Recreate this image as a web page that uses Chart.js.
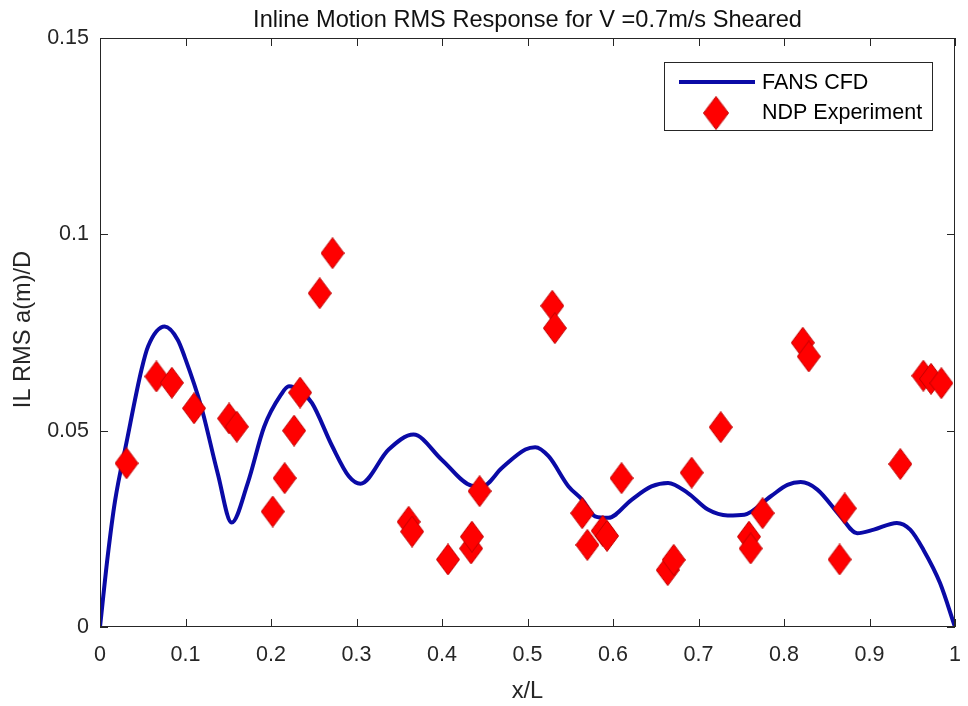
<!DOCTYPE html>
<html>
<head>
<meta charset="utf-8">
<title>Inline Motion RMS Response</title>
<script src="https://cdn.jsdelivr.net/npm/chart.js@4.4.1/dist/chart.umd.min.js"></script>
<style>
  html, body { margin: 0; padding: 0; background: #fff; }
  #wrap { width: 968px; height: 706px; position: relative; }
</style>
</head>
<body>
<div id="wrap"><canvas id="myChart"></canvas></div>
<script>
// Datos de la gráfica
const chartTitle = 'Inline Motion RMS Response for V =0.7m/s Sheared';
const xLabel = 'x/L';
const yLabel = 'IL RMS a(m)/D';
const cfdName = 'FANS CFD';
const expName = 'NDP Experiment';

const xTicks = [0, 0.1, 0.2, 0.3, 0.4, 0.5, 0.6, 0.7, 0.8, 0.9, 1];
const xTickLabels = ['0', '0.1', '0.2', '0.3', '0.4', '0.5', '0.6', '0.7', '0.8', '0.9', '1'];
const yTicks = [0, 0.05, 0.1, 0.15];
const yTickLabels = ['0', '0.05', '0.1', '0.15'];

// Curva CFD
const cfdX = [0, 0.009, 0.0175, 0.031, 0.0485, 0.0563, 0.0757, 0.091, 0.099, 0.1184, 0.1377, 0.154, 0.1727,
  0.192, 0.2115, 0.221, 0.235, 0.248, 0.2715, 0.291, 0.3046, 0.3376, 0.3667, 0.3997, 0.4346,
  0.447, 0.470, 0.4975, 0.509, 0.5246, 0.548, 0.564, 0.579, 0.5945, 0.6217, 0.645, 0.6644,
  0.6876, 0.711, 0.7342, 0.7536, 0.7846, 0.804, 0.8196, 0.839, 0.866, 0.8856, 0.905, 0.932,
  0.9476, 0.963, 0.9825, 1];
const cfdY = [0, 0.018, 0.032, 0.047, 0.0655, 0.0715, 0.0765, 0.0731, 0.0688, 0.0561, 0.0391, 0.0266, 0.0366,
  0.0510, 0.0591, 0.0613, 0.0600, 0.0570, 0.0461, 0.0384, 0.0365, 0.0452, 0.0490, 0.0426, 0.0360,
  0.0358, 0.0405, 0.0452, 0.0458, 0.0435, 0.0358, 0.0324, 0.0282, 0.0278, 0.0324, 0.0358, 0.0367,
  0.0341, 0.0299, 0.0284, 0.0286, 0.0333, 0.0362, 0.0369, 0.0350, 0.0282, 0.0239, 0.0248, 0.0265,
  0.0248, 0.0197, 0.0112, 0];

// Puntos del experimento
const expX = [0.031, 0.066, 0.084, 0.110, 0.151, 0.160, 0.202, 0.216, 0.227, 0.234, 0.257, 0.272,
  0.361, 0.365, 0.407, 0.434, 0.435, 0.444, 0.529, 0.532, 0.564, 0.570, 0.588, 0.593, 0.610,
  0.664, 0.671, 0.692, 0.726, 0.759, 0.761, 0.775, 0.822, 0.829, 0.865, 0.871, 0.936, 0.963,
  0.972, 0.984];
const expY = [0.0417, 0.0638, 0.0622, 0.0557, 0.0531, 0.0510, 0.0294, 0.0379, 0.0500, 0.0597, 0.0850, 0.0952,
  0.0268, 0.0243, 0.0172, 0.0200, 0.0230, 0.0346, 0.0818, 0.0761, 0.0290, 0.0209, 0.0245, 0.0232, 0.0379,
  0.0145, 0.0171, 0.0393, 0.0509, 0.0230, 0.0200, 0.0290, 0.0724, 0.0689, 0.0172, 0.0302, 0.0415, 0.0640,
  0.0632, 0.0621];

const FONT = '"Liberation Sans", Arial, sans-serif';
const lineColor = '#0a0aa6';
const textColor = '#262626';

// Rombo alargado estilo MATLAB
function makeDiamond(w, h) {
  const c = document.createElement('canvas');
  c.width = w; c.height = h;
  const g = c.getContext('2d');
  g.beginPath();
  g.moveTo(w / 2, 0.5);
  g.lineTo(w - 0.5, h / 2);
  g.lineTo(w / 2, h - 0.5);
  g.lineTo(0.5, h / 2);
  g.closePath();
  g.fillStyle = '#ff0000';
  g.fill();
  g.strokeStyle = '#c00000';
  g.lineWidth = 1;
  g.stroke();
  return c;
}
const diamond = makeDiamond(24, 32);

// Marco, marcas internas, leyenda y textos
const matlabFrame = {
  id: 'matlabFrame',
  afterDatasetsDraw(chart) {
    const { ctx, chartArea: a, scales: { x, y } } = chart;
    ctx.save();
    ctx.strokeStyle = textColor;
    ctx.lineWidth = 1;
    ctx.strokeRect(a.left + 0.5, a.top + 0.5, a.right - a.left - 1, a.bottom - a.top - 1);

    const tl = 8;
    ctx.beginPath();
    xTicks.forEach(v => {
      const px = Math.round(x.getPixelForValue(v)) + 0.5;
      ctx.moveTo(px, a.bottom); ctx.lineTo(px, a.bottom - tl);
      ctx.moveTo(px, a.top); ctx.lineTo(px, a.top + tl);
    });
    yTicks.forEach(v => {
      const py = Math.round(y.getPixelForValue(v)) + 0.5;
      ctx.moveTo(a.left, py); ctx.lineTo(a.left + tl, py);
      ctx.moveTo(a.right, py); ctx.lineTo(a.right - tl, py);
    });
    ctx.stroke();

    // leyenda
    const bx = a.right - 291, by = a.top + 24, bw = 268, bh = 68;
    ctx.fillStyle = '#fff';
    ctx.fillRect(bx, by, bw, bh);
    ctx.strokeStyle = textColor;
    ctx.strokeRect(bx + 0.5, by + 0.5, bw, bh);
    ctx.strokeStyle = lineColor;
    ctx.lineWidth = 4;
    ctx.beginPath();
    ctx.moveTo(bx + 15, by + 20);
    ctx.lineTo(bx + 91, by + 20);
    ctx.stroke();
    ctx.drawImage(diamond, bx + 52 - 13, by + 51 - 17, 26, 34);
    ctx.fillStyle = '#000';
    ctx.font = '21.5px ' + FONT;
    ctx.textAlign = 'left';
    ctx.textBaseline = 'middle';
    ctx.fillText(cfdName, bx + 98, by + 21);
    ctx.fillText(expName, bx + 98, by + 51);

    // títulos
    ctx.font = '23.6px ' + FONT;
    ctx.textAlign = 'center';
    ctx.fillStyle = '#111';
    ctx.fillText(chartTitle, (a.left + a.right) / 2, 20);
    ctx.fillStyle = textColor;
    ctx.fillText(xLabel, (a.left + a.right) / 2, 691);
    ctx.translate(23, (a.top + a.bottom) / 2 - 3);
    ctx.rotate(-Math.PI / 2);
    ctx.fillText(yLabel, 0, 0);
    ctx.restore();
  }
};

const chartConfig = {
  type: 'scatter',
  data: {
    datasets: [
      {
        label: expName,
        data: expX.map((v, i) => ({ x: v, y: expY[i] })),
        pointStyle: diamond,
        pointRadius: 12,
        pointHoverRadius: 12,
        showLine: false,
        order: 1
      },
      {
        label: cfdName,
        type: 'line',
        data: cfdX.map((v, i) => ({ x: v, y: cfdY[i] })),
        borderColor: lineColor,
        borderWidth: 4,
        pointRadius: 0,
        fill: false,
        cubicInterpolationMode: 'monotone',
        order: 2
      }
    ]
  },
  options: {
    responsive: true,
    maintainAspectRatio: false,
    animation: false,
    layout: { padding: { top: 38, right: 9, left: 0, bottom: 0 } },
    plugins: {
      legend: { display: false },
      title: { display: false },
      tooltip: { enabled: false }
    },
    scales: {
      x: {
        type: 'linear',
        min: 0,
        max: 1,
        grid: { display: false, drawTicks: false },
        border: { display: false },
        afterBuildTicks: scale => { scale.ticks = xTicks.map(v => ({ value: v })); },
        afterFit: scale => {
          scale.height = 79;
          scale.paddingLeft = 0;
          scale.paddingRight = 0;
        },
        ticks: {
          padding: 15,
          color: textColor,
          font: { family: FONT, size: 21.5 },
          maxRotation: 0,
          autoSkip: false,
          callback: (v, i) => xTickLabels[i]
        }
      },
      y: {
        type: 'linear',
        min: 0,
        max: 0.15,
        grid: { display: false, drawTicks: false },
        border: { display: false },
        afterBuildTicks: scale => { scale.ticks = yTicks.map(v => ({ value: v })); },
        afterFit: scale => {
          scale.width = 100;
          scale.paddingTop = 0;
          scale.paddingBottom = 0;
        },
        ticks: {
          padding: 11,
          color: textColor,
          font: { family: FONT, size: 21.5 },
          autoSkip: false,
          callback: (v, i) => yTickLabels[i]
        }
      }
    }
  },
  plugins: [matlabFrame]
};

const myChart = new Chart(document.getElementById('myChart'), chartConfig);
</script>
</body>
</html>
